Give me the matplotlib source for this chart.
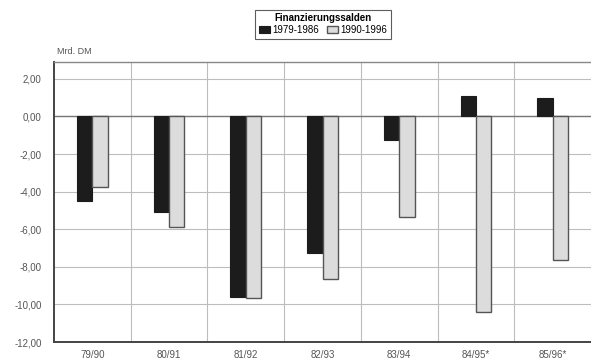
import matplotlib
matplotlib.use("Agg")
import matplotlib.pyplot as plt
import numpy as np

# data (Mrd. DM)
categories = ["79/90", "80/91", "81/92", "82/93", "83/94", "84/95*", "85/96*"]
saldo_1979_1986 = [-4.5, -5.1, -9.6, -7.25, -1.25, 1.1, 1.0]
saldo_1990_1996 = [-3.75, -5.9, -9.65, -8.65, -5.35, -10.4, -7.65]
series_labels = ["1979-1986", "1990-1996"]
y_ticks = [2, 0, -2, -4, -6, -8, -10, -12]

plt.rcParams["font.family"] = ["Liberation Sans", "DejaVu Sans"]

fig = plt.figure(figsize=(5.91, 3.64), dpi=100)
ax = fig.add_axes([54 / 591, 1 - 342 / 364, 537 / 591, 280 / 364])

x = np.arange(len(categories))
w = 0.2
ax.bar(x - w / 2, saldo_1979_1986, width=w, color="#1c1c1c", edgecolor="#1c1c1c",
       linewidth=0.8, label=series_labels[0], zorder=3)
ax.bar(x + w / 2, saldo_1990_1996, width=w, color="#dcdcdc", edgecolor="#555555",
       linewidth=1.0, label=series_labels[1], zorder=3)

ax.set_xlim(-0.5, len(categories) - 0.5)
ax.set_ylim(-12, 2.9)
ax.set_yticks(y_ticks)
ax.set_yticklabels([f"{v:.2f}".replace(".", ",") for v in y_ticks], fontsize=7, color="#555555")
ax.set_xticks(x)
ax.set_xticklabels(categories, fontsize=7, color="#555555")
ax.tick_params(axis="y", length=0, pad=9)
ax.tick_params(axis="x", length=0, pad=6)

# grid: horizontal at ticks, vertical between categories
for v in y_ticks:
    ax.axhline(v, color="#bdbdbd", linewidth=0.8, zorder=1)
ax.axhline(0, color="#777777", linewidth=1.0, zorder=2)
for b in np.arange(0.5, len(categories) - 0.5, 1):
    ax.axvline(b, color="#bdbdbd", linewidth=0.8, zorder=1)

ax.spines["right"].set_visible(False)
ax.spines["top"].set_color("#888888")
ax.spines["top"].set_linewidth(1.0)
for side in ["left", "bottom"]:
    ax.spines[side].set_color("#444444")
    ax.spines[side].set_linewidth(1.4)

fig.text(57 / 591, 1 - 51 / 364, "Mrd. DM", fontsize=6.5, color="#555555", va="center")

leg = fig.legend(loc="upper center", bbox_to_anchor=(323 / 591, 1 - 5 / 364), ncol=2,
                 title="Finanzierungssalden", fontsize=7, title_fontsize=7,
                 frameon=True, fancybox=False, edgecolor="#333333",
                 handlelength=1.2, handleheight=0.7, handletextpad=0.2,
                 columnspacing=0.8, borderpad=0.35, labelspacing=0.2)
leg.get_title().set_fontweight("bold")
leg.get_frame().set_linewidth(0.8)

fig.savefig("out.png", dpi=100)
